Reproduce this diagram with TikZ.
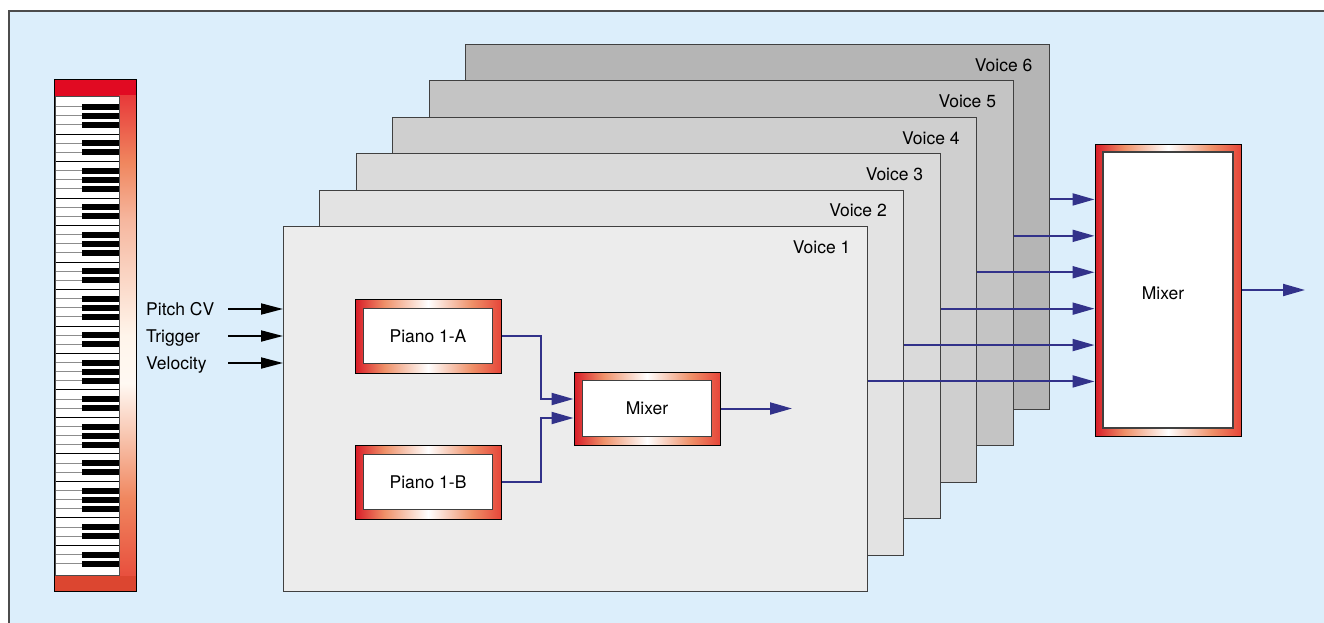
\documentclass[tikz,border=0pt]{standalone}
\usepackage{fontspec}
\setmainfont{TeX Gyre Heros}
\usetikzlibrary{arrows.meta,positioning}

\definecolor{panelbg}{HTML}{DCEEFB}
\definecolor{flowblue}{HTML}{32328A}
\definecolor{chipred}{HTML}{D81B27}
\definecolor{chipredr}{HTML}{E6463A}
\definecolor{chippeach}{HTML}{EF9068}
\definecolor{keytop}{HTML}{E10A22}
\definecolor{keybot}{HTML}{DC4630}
\definecolor{striptop}{HTML}{E83A3A}
\definecolor{stripmid}{HTML}{F0875F}
\definecolor{stripbot}{HTML}{E8503E}

% frame of the module boxes: red edges, peach, white in the middle
\pgfdeclarehorizontalshading{chipframe}{100bp}{color(0bp)=(chipred); color(25bp)=(chipred);
  color(35bp)=(chippeach); color(50bp)=(white); color(65bp)=(chippeach);
  color(75bp)=(chipredr); color(100bp)=(chipredr)}
% side strip of the keyboard
\pgfdeclareverticalshading{keystrip}{100bp}{color(0bp)=(stripbot); color(25bp)=(stripbot);
  color(33bp)=(stripmid); color(45bp)=(white!95!orange); color(50bp)=(white!92!orange);
  color(62bp)=(stripmid!60!white); color(68bp)=(stripmid); color(75bp)=(striptop); color(100bp)=(striptop)}

\tikzset{
  voicebox/.style={draw=black!75, line width=0.9pt, anchor=north west,
    minimum width=584pt, minimum height=365pt, inner sep=0pt},
  chip/.style={draw=black, line width=1pt, shading=chipframe, inner sep=0pt},
  face/.style={draw=black!75, line width=1.2pt, fill=white, inner sep=0pt},
  flow/.style={draw=flowblue, line width=2pt, -{Triangle[length=22pt,width=12pt]}},
  cvin/.style={draw=black, line width=1.8pt, -{Triangle[length=22pt,width=11pt]}},
}

\begin{document}
\begin{tikzpicture}[x=1pt,y=-1pt,font=\fontsize{17.5}{21}\selectfont]
	\pgfmathsetmacro{\vgap}{36.4};
	\pgfmathsetmacro{\kh}{9.14};
	\useasboundingbox (0,0) rectangle (1324,623);

	% backdrop
	\fill[panelbg] (9,11) rectangle (1324,623);
	\draw[black!70, line width=1.5pt] (9,623) -- (9,11) -- (1324,11);

	% keyboard
	\fill[keytop] (54,80) rectangle (136,96);
	\fill[keybot] (54,575) rectangle (136,591);
	\shade[shading=keystrip] (119,96) rectangle (136,575);
	\fill[white] (55,96) rectangle (119,575);
	\foreach \k in {1,...,51} {
		\pgfmathsetmacro{\ky}{97.5+\k*\kh}
		\pgfmathtruncatemacro{\kn}{mod(\k,7)}
		\ifnum\kn=0
			\draw[black, line width=1pt] (55,\ky) -- (119,\ky);
		\else\ifnum\kn=4
			\draw[black, line width=1pt] (55,\ky) -- (119,\ky);
		\else
			\draw[black!45, line width=1pt] (55,\ky) -- (119,\ky);
			\fill[black] (82,\ky-3) rectangle (119,\ky+3);
		\fi\fi
	}
	\draw[black!70, line width=0.8pt] (55,96) rectangle (119,575);
	\draw[line width=1pt] (54,80) rectangle (136,591);

	% voice cards, back to front
	\foreach \i/\gr in {6/29,5/23,4/19,3/14.5,2/11,1/7.5} {
		\node[voicebox, fill=black!\gr] (voice\i) at ({283+\vgap*(\i-1)},{226-\vgap*(\i-1)}) {};
		\node[anchor=east] at ([xshift=-14pt,yshift=-21pt]voice\i.north east) {Voice \i};
	}

	% output mixer
	\node[chip, minimum width=146pt, minimum height=292pt] (bigmix) at (1168,290) {};
	\node[face, minimum width=130pt, minimum height=276pt] (bigface) at (bigmix) {};
	\node at ([xshift=-5pt,yshift=-3pt]bigface.center) {Mixer};
	\foreach \i in {1,...,6} {
		\coordinate (vo\i) at ([yshift=27.5pt]voice\i.east);
		\draw[flow] (vo\i) -- (vo\i -| bigmix.west);
	}
	\coordinate (mixout) at (1305,290);
	\draw[flow] (bigmix.east) -- (mixout);

	% inside voice 1
	\node[chip, minimum width=146pt, minimum height=74pt] (pianoA) at (428,336) {};
	\node[face, minimum width=129pt, minimum height=55pt] at (pianoA) {Piano 1-A};
	\node[chip, minimum width=146pt, minimum height=74pt] (pianoB) at (428,482) {};
	\node[face, minimum width=129pt, minimum height=55pt] at (pianoB) {Piano 1-B};
	\node[chip, minimum width=146pt, minimum height=73pt] (mixer) at (647,408.5) {};
	\node[face, minimum width=129pt, minimum height=56pt] at (mixer) {Mixer};
	\draw[flow] (pianoA.east) -- ++(39,0) |- ([yshift=9.5pt]mixer.west);
	\draw[flow] (pianoB.east) -- ++(39,0) |- ([yshift=-9.5pt]mixer.west);
	\coordinate (voiceout) at (792,408.5);
	\draw[flow] (mixer.east) -- (voiceout);

	% control inputs
	\foreach \nm/\txt/\yy in {pitch/Pitch CV/309,trig/Trigger/336,vel/Velocity/363} {
		\node[anchor=base west, inner sep=0pt] (\nm) at (146,\yy+6) {\txt};
		\coordinate (\nm-in) at (228,\yy);
		\draw[cvin] (\nm-in) -- (\nm-in -| voice1.west);
	}
\end{tikzpicture}
\end{document}
